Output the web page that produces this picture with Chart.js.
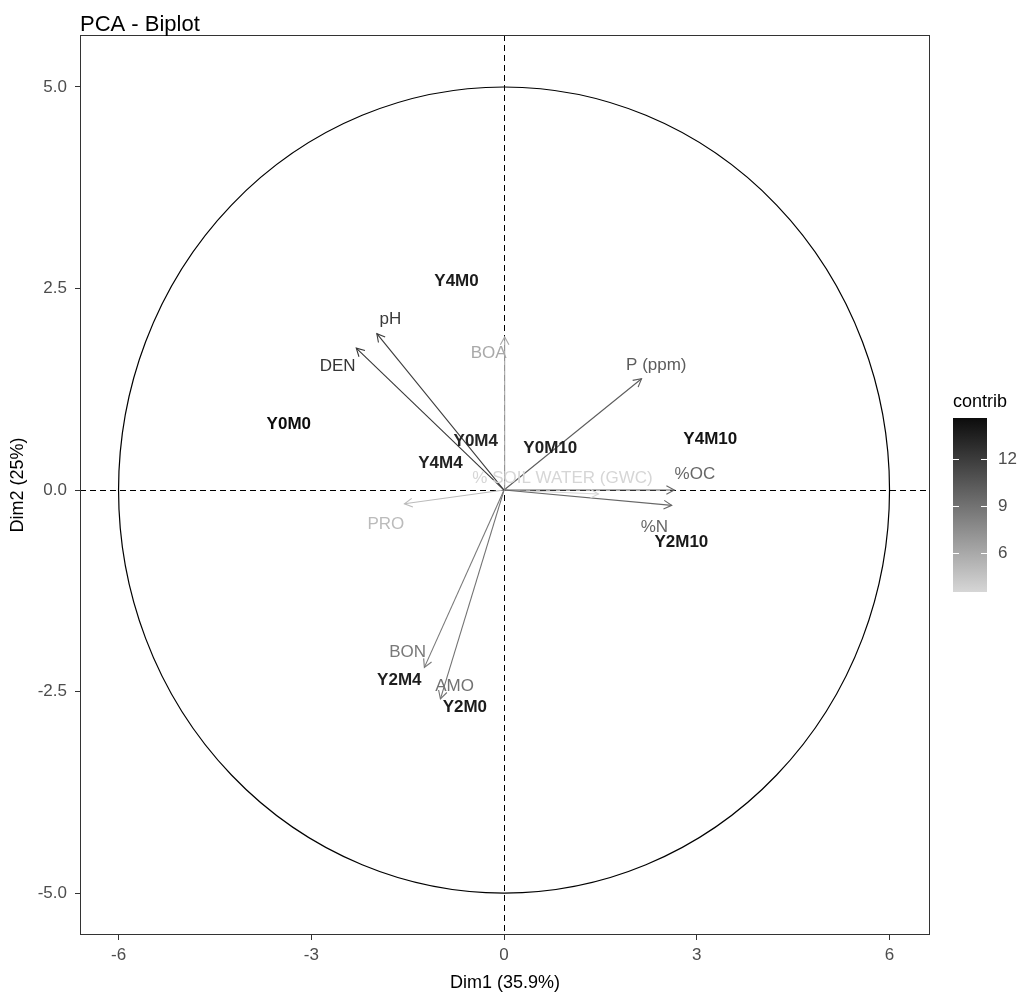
<!DOCTYPE html>
<html>
<head>
<meta charset="utf-8">
<title>PCA - Biplot</title>
<script src="https://cdn.jsdelivr.net/npm/chart.js@4.4.1/dist/chart.umd.min.js"></script>
<style>
  html, body { margin: 0; padding: 0; background: #fff; }
  #wrap { width: 1019px; height: 994px; }
</style>
</head>
<body>
<div id="wrap"><canvas id="biplot" width="1019" height="994"></canvas></div>
<script>
// Individuos (coordenadas Dim1 / Dim2 e contribuicao)
const indNames = ['Y0M0', 'Y4M0', 'Y0M4', 'Y4M4', 'Y0M10', 'Y4M10', 'Y2M10', 'Y2M4', 'Y2M0'];
const indX = [-3.35, -0.74, -0.44, -0.99, 0.72, 3.21, 2.76, -1.63, -0.61];
const indY = [0.82, 2.59, 0.61, 0.33, 0.52, 0.63, -0.65, -2.36, -2.69];
const indContrib = [14.6, 13.8, 13.2, 13.4, 13.5, 14.2, 13.9, 13.6, 13.7];

// Variaveis (setas)
const varNames = ['pH', 'DEN', 'BOA', 'P (ppm)', '%OC', '%N', '% SOIL WATER (GWC)', 'PRO', 'BON', 'AMO'];
const varX = [-1.98, -2.30, 0.01, 2.14, 2.65, 2.61, 1.47, -1.55, -1.24, -0.99];
const varY = [1.94, 1.76, 1.90, 1.38, 0.0, -0.19, -0.05, -0.17, -2.20, -2.59];
const varLabelX = [-1.77, -2.59, -0.24, 2.37, 2.97, 2.34, 0.91, -1.84, -1.50, -0.77];
const varLabelY = [2.12, 1.53, 1.69, 1.55, 0.19, -0.46, 0.14, -0.43, -2.01, -2.43];
const varContrib = [12.0, 12.3, 6.0, 10.2, 9.6, 9.6, 3.5, 5.0, 8.6, 9.0];

// Eixos
const xTicks = [-6, -3, 0, 3, 6];
const yTicks = [-5, -2.5, 0, 2.5, 5];
const contribTicks = [6, 9, 12];
const contribRange = [3.5, 14.6];
const circleRadius = [6, 5];

const FONT = '"Liberation Sans", Arial, sans-serif';

// Escala de cinza para a contribuicao
function contribColor(v) {
    const t = Math.max(0, Math.min(1, (v - contribRange[0]) / (contribRange[1] - contribRange[0])));
    const g = Math.round(214 + (12 - 214) * t);
    return 'rgb(' + g + ',' + g + ',' + g + ')';
}

const datasets = varNames.map((name, i) => ({
    label: name,
    data: [{ x: 0, y: 0 }, { x: varX[i], y: varY[i] }],
    showLine: true,
    borderColor: contribColor(varContrib[i]),
    borderWidth: 1.1,
    pointRadius: 0
}));

datasets.push({
    label: 'individuos',
    data: indX.map((x, i) => ({ x: x, y: indY[i] })),
    pointRadius: 0,
    showLine: false
});

const biplotDecor = {
    id: 'biplotDecor',
    beforeDatasetsDraw(chart) {
        const { ctx, chartArea: a, scales: { x, y } } = chart;
        const cx = x.getPixelForValue(0);
        const cy = y.getPixelForValue(0);
        ctx.save();
        ctx.beginPath();
        ctx.rect(a.left, a.top, a.right - a.left, a.bottom - a.top);
        ctx.clip();

        // circulo de correlacao
        ctx.strokeStyle = '#000';
        ctx.lineWidth = 1.2;
        ctx.beginPath();
        ctx.ellipse(cx, cy,
            Math.abs(x.getPixelForValue(circleRadius[0]) - cx),
            Math.abs(y.getPixelForValue(circleRadius[1]) - cy), 0, 0, Math.PI * 2);
        ctx.stroke();

        // linhas tracejadas em zero
        const lx = Math.round(cx) + 0.5;
        const ly = Math.round(cy) + 0.5;
        ctx.setLineDash([6, 4]);
        ctx.lineWidth = 1;
        ctx.beginPath();
        ctx.moveTo(a.left, ly);
        ctx.lineTo(a.right, ly);
        ctx.moveTo(lx, a.top);
        ctx.lineTo(lx, a.bottom);
        ctx.stroke();
        ctx.restore();
    },
    afterDatasetsDraw(chart) {
        const { ctx, scales: { x, y } } = chart;
        const ox = x.getPixelForValue(0);
        const oy = y.getPixelForValue(0);
        ctx.save();

        // pontas das setas
        varNames.forEach((name, i) => {
            const tx = x.getPixelForValue(varX[i]);
            const ty = y.getPixelForValue(varY[i]);
            const ang = Math.atan2(ty - oy, tx - ox);
            const len = 9;
            ctx.strokeStyle = contribColor(varContrib[i]);
            ctx.lineWidth = 1.1;
            ctx.beginPath();
            ctx.moveTo(tx - len * Math.cos(ang - 0.5), ty - len * Math.sin(ang - 0.5));
            ctx.lineTo(tx, ty);
            ctx.lineTo(tx - len * Math.cos(ang + 0.5), ty - len * Math.sin(ang + 0.5));
            ctx.stroke();
        });

        ctx.textAlign = 'center';
        ctx.textBaseline = 'middle';

        // rotulos das variaveis
        ctx.font = '17px ' + FONT;
        varNames.forEach((name, i) => {
            ctx.fillStyle = contribColor(varContrib[i]);
            ctx.fillText(name, x.getPixelForValue(varLabelX[i]), y.getPixelForValue(varLabelY[i]));
        });

        // rotulos dos individuos
        ctx.font = 'bold 17px ' + FONT;
        indNames.forEach((name, i) => {
            ctx.fillStyle = contribColor(indContrib[i]);
            ctx.fillText(name, x.getPixelForValue(indX[i]), y.getPixelForValue(indY[i]));
        });
        ctx.restore();
    },
    afterDraw(chart) {
        const { ctx, chartArea: a } = chart;
        ctx.save();

        // borda do painel
        ctx.strokeStyle = '#333';
        ctx.lineWidth = 1;
        ctx.strokeRect(a.left + 0.5, a.top + 0.5, a.right - a.left - 1, a.bottom - a.top - 1);

        // titulo
        ctx.fillStyle = '#000';
        ctx.font = '22px ' + FONT;
        ctx.textAlign = 'left';
        ctx.textBaseline = 'alphabetic';
        ctx.fillText('PCA - Biplot', a.left, 31);

        // legenda de cor (contrib)
        const barL = a.right + 23, barW = 34, barT = 418, barB = 592;
        const grad = ctx.createLinearGradient(0, barT, 0, barB);
        grad.addColorStop(0, contribColor(contribRange[1]));
        grad.addColorStop(1, contribColor(contribRange[0]));
        ctx.fillStyle = grad;
        ctx.fillRect(barL, barT, barW, barB - barT);

        ctx.fillStyle = '#000';
        ctx.font = '18px ' + FONT;
        ctx.textBaseline = 'middle';
        ctx.fillText('contrib', barL, 402);

        ctx.font = '17px ' + FONT;
        contribTicks.forEach(v => {
            const py = Math.round(barB - (v - contribRange[0]) / (contribRange[1] - contribRange[0]) * (barB - barT)) + 0.5;
            ctx.strokeStyle = '#fff';
            ctx.beginPath();
            ctx.moveTo(barL, py);
            ctx.lineTo(barL + 6, py);
            ctx.moveTo(barL + barW - 6, py);
            ctx.lineTo(barL + barW, py);
            ctx.stroke();
            ctx.fillStyle = '#4d4d4d';
            ctx.fillText(String(v), barL + barW + 11, py);
        });
        ctx.restore();
    }
};

function axisTicks(list) {
    return function (scale) {
        scale.ticks = list.map(v => ({ value: v }));
    };
}

new Chart(document.getElementById('biplot').getContext('2d'), {
    type: 'scatter',
    data: { datasets: datasets },
    options: {
        responsive: false,
        animation: false,
        layout: { padding: { top: 35, right: 89, bottom: 0, left: 0 } },
        plugins: {
            legend: { display: false },
            tooltip: { enabled: false }
        },
        scales: {
            x: {
                type: 'linear',
                min: -6.6,
                max: 6.63,
                afterBuildTicks: axisTicks(xTicks),
                afterFit: s => { s.height = 59; },
                ticks: {
                    color: '#4d4d4d',
                    font: { size: 17, family: FONT },
                    padding: 5,
                    autoSkip: false,
                    maxRotation: 0,
                    callback: v => String(v)
                },
                grid: { drawOnChartArea: false, drawTicks: true, tickLength: 5, color: '#333' },
                border: { display: false },
                title: {
                    display: true,
                    text: 'Dim1 (35.9%)',
                    color: '#000',
                    font: { size: 18, family: FONT },
                    padding: { top: 0, bottom: 0 }
                }
            },
            y: {
                type: 'linear',
                min: -5.52,
                max: 5.645,
                afterBuildTicks: axisTicks(yTicks),
                afterFit: s => { s.width = 80; },
                ticks: {
                    color: '#4d4d4d',
                    font: { size: 17, family: FONT },
                    padding: 8,
                    autoSkip: false,
                    callback: v => v.toFixed(1)
                },
                grid: { drawOnChartArea: false, drawTicks: true, tickLength: 5, color: '#333' },
                border: { display: false },
                title: {
                    display: true,
                    text: 'Dim2 (25%)',
                    color: '#000',
                    font: { size: 18, family: FONT },
                    padding: { top: 7, bottom: 0 }
                }
            }
        }
    },
    plugins: [biplotDecor]
});
</script>
</body>
</html>
